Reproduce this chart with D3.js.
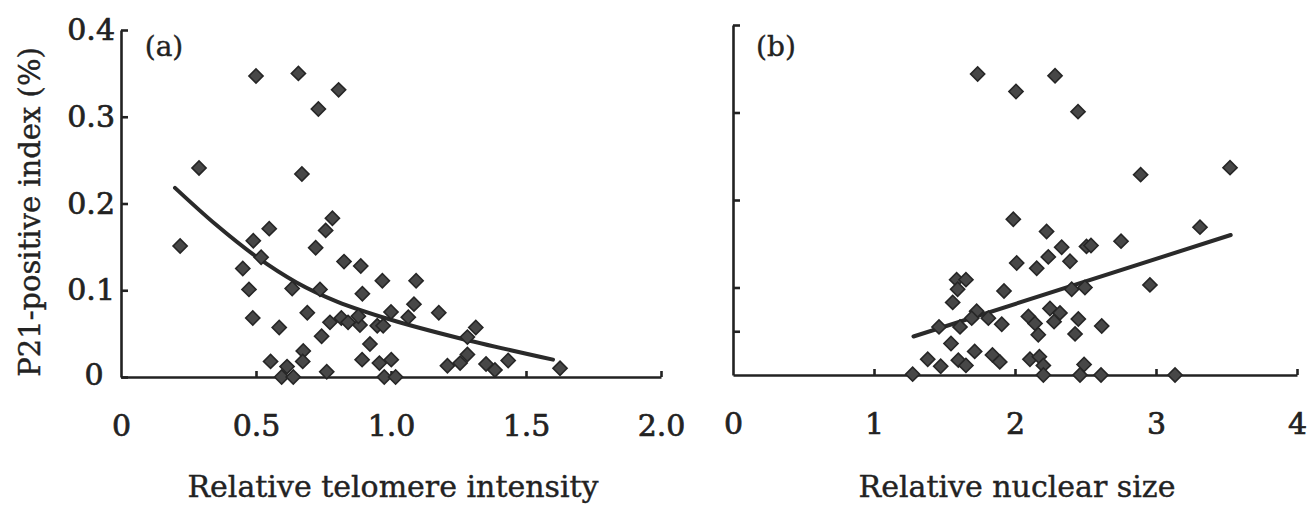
<!DOCTYPE html>
<html>
<head>
<meta charset="utf-8">
<script src="https://cdn.jsdelivr.net/npm/d3@7"></script>
<style>
  html, body { margin: 0; padding: 0; background: #fff; }
  svg { display: block; }
  text { font-family: "DejaVu Serif", serif; fill: #222; }
</style>
</head>
<body>
<svg id="chart" width="1315" height="505"></svg>
<script>
// ---------- Data ----------
// Panel (a): Relative telomere intensity vs P21-positive index
const telomereX = [0.50,0.657,0.806,0.731,0.289,0.670,0.219,0.783,0.758,0.721,0.549,0.490,0.519,0.451,0.474,0.826,0.888,0.634,0.737,0.968,1.093,0.894,1.085,1.177,0.488,0.690,0.586,0.774,0.816,0.841,0.885,0.879,0.949,0.971,1.000,1.064,0.743,0.922,0.554,0.615,0.675,0.673,0.893,0.957,1.001,1.209,0.595,0.638,0.762,0.975,1.017,1.314,1.283,1.283,1.256,1.352,1.385,1.434,1.626];
const telomereY = [0.347,0.350,0.331,0.309,0.241,0.234,0.151,0.183,0.169,0.149,0.171,0.157,0.138,0.125,0.101,0.133,0.128,0.102,0.101,0.111,0.111,0.096,0.084,0.074,0.068,0.074,0.057,0.063,0.068,0.063,0.060,0.070,0.059,0.059,0.075,0.069,0.047,0.038,0.018,0.012,0.030,0.018,0.020,0.016,0.020,0.013,0.000,0.000,0.006,0.000,0.000,0.057,0.046,0.026,0.016,0.015,0.008,0.019,0.010];

// Panel (b): Relative nuclear size vs P21-positive index
const nuclearX = [1.735,2.284,2.007,2.447,2.891,3.525,1.988,2.224,3.312,2.331,2.236,2.390,2.507,2.012,2.154,1.586,1.652,1.593,1.922,1.558,2.402,2.496,1.728,1.693,1.811,1.610,1.461,1.906,2.095,2.142,2.248,2.319,2.277,2.449,2.165,2.426,1.546,1.381,1.473,1.598,1.652,1.714,1.840,1.892,2.106,2.173,2.201,1.274,2.201,2.490,2.461,2.539,2.752,2.957,2.615,2.610,3.135];
const nuclearY = [0.344,0.342,0.324,0.301,0.229,0.237,0.178,0.164,0.169,0.146,0.135,0.130,0.147,0.128,0.122,0.109,0.109,0.098,0.096,0.083,0.098,0.100,0.073,0.065,0.065,0.055,0.055,0.058,0.067,0.059,0.076,0.071,0.061,0.064,0.046,0.047,0.036,0.018,0.010,0.017,0.011,0.027,0.023,0.015,0.018,0.021,0.011,0.001,0.000,0.012,0.000,0.148,0.153,0.103,0.056,0.000,0.000];

// Trend lines
const trendAX = [0.20,0.35,0.50,0.65,0.80,1.00,1.25,1.60];
const trendAY = [0.218,0.176,0.139,0.109,0.087,0.066,0.045,0.020];
const trendBX = [1.28,3.53];
const trendBY = [0.044,0.160];

// Ticks
const xTicksA = [0,0.5,1.0,1.5,2.0];
const xTickLabelsA = ["0","0.5","1.0","1.5","2.0"];
const yTicksA = [0,0.1,0.2,0.3,0.4];
const yTickLabelsA = ["0","0.1","0.2","0.3","0.4"];
const xTicksB = [0,1,2,3,4];
const xTickLabelsB = ["0","1","2","3","4"];
const yTicksB = [0.05,0.1,0.2,0.3,0.4];

const xTitleA = "Relative telomere intensity";
const xTitleB = "Relative nuclear size";
const yTitle = "P21-positive index (%)";
const panelLabels = ["(a)","(b)"];

// ---------- Drawing ----------
const svg = d3.select("#chart");
svg.append("rect").attr("width",1315).attr("height",505).attr("fill","#fff");

const xA = d3.scaleLinear().domain([0,2]).range([121,661]);
const yA = d3.scaleLinear().domain([0,0.4]).range([377,30]);
const xB = d3.scaleLinear().domain([0,4]).range([733,1297]);
const yB = d3.scaleLinear().domain([0,0.4]).range([375,25]);

const ink = "#222";

function styleAxis(g){
  g.selectAll("path.domain").attr("stroke",ink).attr("stroke-width",2.6);
  g.selectAll(".tick line").attr("stroke",ink).attr("stroke-width",2.6);
  g.selectAll(".tick text").attr("font-family","DejaVu Serif").attr("font-size",30).attr("fill",ink)
    .attr("stroke",ink).attr("stroke-width",0.7);
}

function drawPanel(x, y, xs, ys, xt, xtl, yt, ytl, tx, ty, label, xTitle){
  // y axis
  const yAxis = d3.axisLeft(y).tickValues(yt).tickSizeInner(-7).tickSizeOuter(0).tickPadding(6)
    .tickFormat((d,i)=> ytl ? ytl[i] : "");
  const gy = svg.append("g").attr("transform",`translate(${x.range()[0]},0)`).call(yAxis);
  styleAxis(gy);
  if (ytl) {
    gy.selectAll(".tick text").filter(d=>d===0).attr("text-anchor","middle").attr("x",-27).attr("dy","0.25em");
  }
  // x axis
  const xAxis = d3.axisBottom(x).tickValues(xt).tickSizeInner(-6).tickSizeOuter(0).tickPadding(38)
    .tickFormat((d,i)=>xtl[i]);
  const gx = svg.append("g").attr("transform",`translate(0,${y.range()[0]})`).call(xAxis);
  styleAxis(gx);
  gx.selectAll(".tick line").filter(d=>d===0).remove();

  // trend line
  const pts = tx.map((v,i)=>[v,ty[i]]);
  svg.append("path")
    .attr("d", d3.line().x(d=>x(d[0])).y(d=>y(d[1])).curve(d3.curveCatmullRom.alpha(0.5))(pts))
    .attr("fill","none").attr("stroke","#2a2a2a").attr("stroke-width",4).attr("stroke-linecap","round");

  // points
  const sym = d3.symbol().type(d3.symbolSquare).size(100);
  svg.append("g").selectAll("path").data(xs.map((v,i)=>[v,ys[i]])).join("path")
    .attr("d", sym)
    .attr("transform", d=>`translate(${x(d[0])},${y(d[1])}) rotate(45)`)
    .attr("fill","#474747").attr("stroke","#262626").attr("stroke-width",1.6);

  // panel label
  svg.append("text").attr("x", x.range()[0]+43).attr("y",56).attr("text-anchor","middle")
    .attr("font-size",28).attr("stroke",ink).attr("stroke-width",0.4).text(label);

  // x title
  svg.append("text").attr("x", (x.range()[0]+x.range()[1])/2 + 2).attr("y",497).attr("text-anchor","middle")
    .attr("font-size",30).attr("stroke",ink).attr("stroke-width",0.4).text(xTitle);
}

drawPanel(xA, yA, telomereX, telomereY, xTicksA, xTickLabelsA, yTicksA, yTickLabelsA, trendAX, trendAY, panelLabels[0], xTitleA);
drawPanel(xB, yB, nuclearX, nuclearY, xTicksB, xTickLabelsB, yTicksB, null, trendBX, trendBY, panelLabels[1], xTitleB);

// y title
svg.append("text").attr("transform","translate(40,212) rotate(-90)").attr("text-anchor","middle")
  .attr("font-size",29).attr("stroke",ink).attr("stroke-width",0.4).text(yTitle);
</script>
</body>
</html>
